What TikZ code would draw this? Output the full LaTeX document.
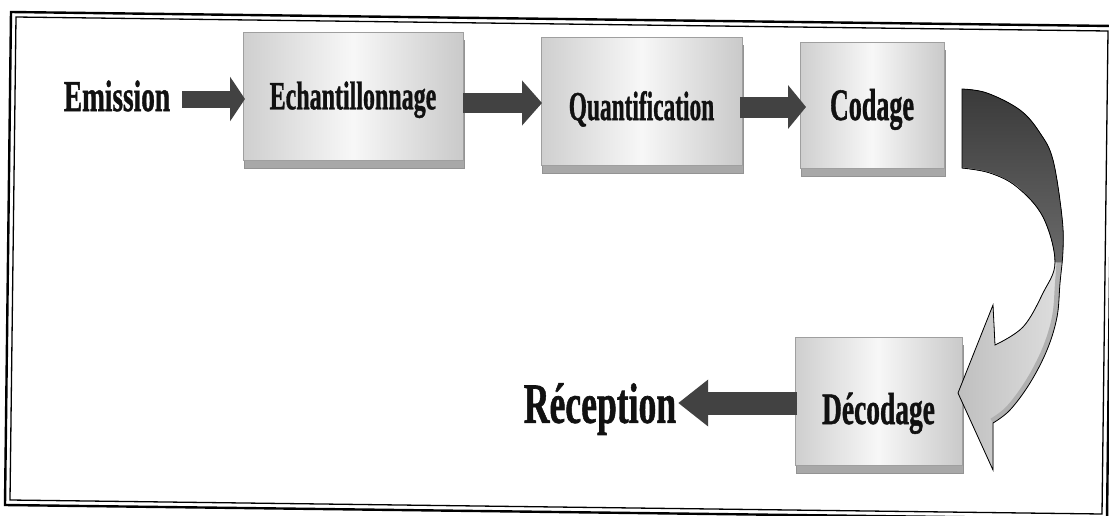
\documentclass[tikz,border=0pt]{standalone}
\usepackage{graphicx}
\usepackage{fontspec}
\setmainfont{Liberation Serif}[BoldFeatures={FakeBold=1.2}]
\usetikzlibrary{arrows.meta,calc,shadows}
\definecolor{arrowgray}{HTML}{424242}
\definecolor{cdarktop}{HTML}{3A3A3A}
\definecolor{cdarkbot}{HTML}{6A6A6A}
\definecolor{txt}{HTML}{111111}
\newcommand{\lbl}[3]{{\fontsize{#2}{#2}\selectfont\bfseries\scalebox{#1}[1]{#3}}}
\tikzset{
  curvedarrow/.style={insert path={
    plot[smooth, tension=0.6] coordinates {(962,89) (987,93) (1020,110) (1040,133) (1053,160) (1062,217) (1063,250) (1060,283) (1057,317) (1047,350) (1030,383) (1010,410) (993,423)}
    -- (993,470) -- (958,393) -- (993,305) -- (995,345)
    -- plot[smooth, tension=0.6] coordinates {(995,345) (1023,327) (1043,293) (1055,262) (1043,217) (1017,187) (990,173) (962,168)} -- cycle}},
}
\begin{document}
\begin{tikzpicture}[x=1pt,y=-1pt,
  box/.style={draw=gray!75, line width=0.6pt, left color=gray!38, right color=gray!42, middle color=gray!6,
    drop shadow={shadow xshift=1pt, shadow yshift=-8pt, fill=gray!68, draw=gray!85, opacity=1},
    inner sep=0pt, outer sep=0pt, text depth=0pt, text=txt},
  lab/.style={inner sep=0pt, outer sep=0pt, text depth=0pt, text=txt},
  blk/.style={line width=#1, draw=arrowgray, fill=arrowgray, line cap=butt},
  ]
\useasboundingbox (0,0) rectangle (1109,515);
% frame
\draw[line width=2.4pt] (11,12) -- (1113,26) -- (1107,519) -- (5,505) -- cycle;
\draw[line width=1.3pt] (16,17) -- (1108,31) -- (1102,514) -- (10,500) -- cycle;

% nodes
\node[lab, text height=29pt] (em) at (117,96.5) {\lbl{0.62}{44}{Emission}};
\node[box, minimum width=220pt, minimum height=128pt, text height=26.5pt] (ech) at (353,96) {\lbl{0.6}{40}{Echantillonnage}};
\node[box, minimum width=201pt, minimum height=128pt, text height=38pt] (quant) at (641.5,101) {\lbl{0.57}{41}{Quantification}};
\node[box, minimum width=144pt, minimum height=126pt, text height=30pt] (cod) at (872,105) {\lbl{0.58}{45}{Codage}};
\node[box, minimum width=167pt, minimum height=128pt, text height=46pt] (dec) at (878.5,401) {\lbl{0.61}{45}{Décodage}};
\node[lab, text height=37.7pt] (rec) at (600,404) {\lbl{0.625}{57}{Réception}};

% straight block arrows
\draw[blk=17pt, -{Triangle[length=15pt,width=44pt]}] ($(em.east)+(12pt,-2.5pt)$) -- ($(em.east -| ech.west)+(2pt,-2.5pt)$);
\draw[blk=20pt, -{Triangle[length=20pt,width=44pt]}] ($(ech.east)+(0pt,-7pt)$) -- ($(ech.east -| quant.west)+(1pt,-7pt)$);
\draw[blk=21pt, -{Triangle[length=18pt,width=43pt]}] ($(quant.east)+(-2pt,-6pt)$) -- ($(quant.east -| cod.west)+(6pt,-6pt)$);
\draw[blk=23pt, -{Triangle[length=30pt,width=45pt]}] ($(dec.west)+(2pt,-2pt)$) -- ($(dec.west -| rec.east)+(2pt,-2pt)$);

% curved arrow Codage -> Decodage
\fill[left color=gray!50, right color=gray!25] [curvedarrow];
\begin{scope}
  \clip [curvedarrow];
  \draw[line width=10pt, gray!62] plot[smooth, tension=0.6] coordinates {(1062,255) (1060,283) (1057,317) (1047,350) (1030,383) (1010,410) (993,423)};
  \fill[top color=cdarktop, bottom color=cdarkbot]
    plot[smooth, tension=0.6] coordinates {(962,89) (987,93) (1020,110) (1040,133) (1053,160) (1062,217) (1063,250) (1062,262)}
    -- plot[smooth, tension=0.6] coordinates {(1055,262) (1043,217) (1017,187) (990,173) (962,168)} -- cycle;
  \draw[line width=3pt, gray!40] plot[smooth, tension=0.6] coordinates {(962,169) (990,174) (1017,188) (1040,214)};
\end{scope}
\draw[line width=0.8pt, black] [curvedarrow];
\end{tikzpicture}
\end{document}
